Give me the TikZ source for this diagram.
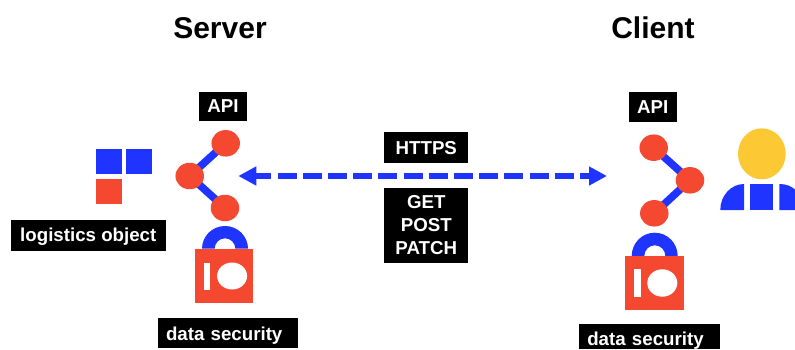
\documentclass[tikz,border=0pt]{standalone}
\usepackage{fontspec}
\setmainfont{Liberation Sans}
\usetikzlibrary{arrows.meta,shapes.geometric,backgrounds}
\definecolor{bl}{HTML}{1F35FF}
\definecolor{rd}{HTML}{F44831}
\definecolor{yl}{HTML}{FCC834}
\tikzset{
  x=1pt,y=1pt,
  title/.style={inner sep=0pt,font=\fontsize{30}{32}\selectfont\bfseries},
  tag/.style={fill=black,text=white,inner sep=0pt,align=center,font=\fontsize{18.7}{23}\selectfont\bfseries},
  apinode/.style={ellipse,fill=rd,inner sep=0pt,minimum width=28.5pt,minimum height=26.5pt},
  link/.style={draw=bl,line width=7.6pt},
  tile/.style={rectangle,inner sep=0pt,minimum size=25.3pt},
  lockbody/.style={rectangle,fill=rd,inner sep=0pt,minimum height=54pt},
  hole/.style={fill=white,inner sep=0pt},
  flow/.style={draw=bl,line width=6.7pt,dash pattern=on 19pt off 6.2pt,dash phase=2.7pt,
    {Triangle[length=18pt,width=18pt]}-{Triangle[length=18pt,width=18pt]}},
}
\begin{document}
\begin{tikzpicture}
\useasboundingbox (0,0) rectangle (795,349);
% titles
\node[title] (srv) at (220,321) {Server};
\node[title] (cli) at (653,321) {Client};
% API labels
\node[tag,minimum width=48pt,minimum height=29.5pt] (apiL) at (223,242.5) {API};
\node[tag,minimum width=48pt,minimum height=30pt] (apiR) at (652.7,241.7) {API};
% server API graph
\node[apinode] (l1) at (225.7,205.7) {};
\node[apinode] (l2) at (189.7,173) {};
\node[apinode] (l3) at (225,141) {};
% client API graph
\node[apinode] (r1) at (653.7,201.3) {};
\node[apinode] (r2) at (690,168.7) {};
\node[apinode] (r3) at (654.3,135.7) {};
\begin{pgfonlayer}{background}
\path[link] (l2.center) -- (l1.center) (l2.center) -- (l3.center);
\path[link] (r2.center) -- (r1.center) (r2.center) -- (r3.center);
\end{pgfonlayer}
% logistics object
\node[tile,fill=bl] (b1) at (109,187.2) {};
\node[tile,fill=bl] (b2) at (139,187.2) {};
\node[tile,fill=rd] (b3) at (109,157.2) {};
\node[tag,minimum width=154.7pt,minimum height=31pt,text height=14pt,text depth=2.2pt] (lo) at (88.3,113.2) {logistics object};
% server lock
\fill[bl,even odd rule] (202,100.3) arc[start angle=180,end angle=0,x radius=23pt,y radius=22.7pt] -- (235.3,100.3)
  arc[start angle=0,end angle=180,x radius=10.3pt,y radius=10.4pt] -- cycle;
\node[lockbody,minimum width=57.7pt] (lockL) at (223.85,73.3) {};
\node[hole,rectangle,minimum width=6.3pt,minimum height=27.3pt] (iL) at (207.2,72.7) {};
\node[hole,ellipse,minimum width=30pt,minimum height=27pt] (oL) at (232.1,73) {};
\node[tag,text width=124pt,inner xsep=8.3pt,minimum height=30.3pt,align=left,text height=15pt,text depth=1.3pt] (dsL) at (228,15.8) {data security};
% client lock
\fill[bl,even odd rule] (631.7,93) arc[start angle=180,end angle=0,x radius=23pt,y radius=23.3pt] -- (665.3,93)
  arc[start angle=0,end angle=180,x radius=10.5pt,y radius=10.7pt] -- cycle;
\node[lockbody,minimum width=58.4pt] (lockR) at (654.5,66) {};
\node[hole,rectangle,minimum width=6.6pt,minimum height=27.3pt] (iR) at (637.3,66) {};
\node[hole,ellipse,minimum width=30pt,minimum height=27.4pt] (oR) at (662.3,66) {};
\node[tag,text width=125pt,inner xsep=8pt,minimum height=25pt,align=left,text height=18pt,text depth=1pt] (dsR) at (649.8,12.5) {data security};
% person
\node[ellipse,fill=yl,inner sep=0pt,minimum width=47.7pt,minimum height=51pt] (head) at (761.85,195.2) {};
\fill[bl] (720.3,139) arc[start angle=180,end angle=90,x radius=23.7pt,y radius=26pt] -- (744,139) -- cycle;
\node[tile,fill=bl,minimum width=23.3pt,minimum height=26pt] (torso) at (761.65,152) {};
\fill[bl] (779.3,165) .. controls (786,165) and (791,163) .. (795,159.5) -- (795,139) -- (779.3,139) -- cycle;
% HTTPS
\coordinate (fromL) at (238.3,173);
\coordinate (toR) at (607,173);
\draw[flow] (fromL) -- (toR);
\node[tag,minimum width=84pt,minimum height=31pt] (https) at (426.3,201.2) {HTTPS};
\node[tag,minimum width=84pt,minimum height=75.6pt] (verbs) at (426.3,123.5) {GET\\POST\\PATCH};
\end{tikzpicture}
\end{document}
